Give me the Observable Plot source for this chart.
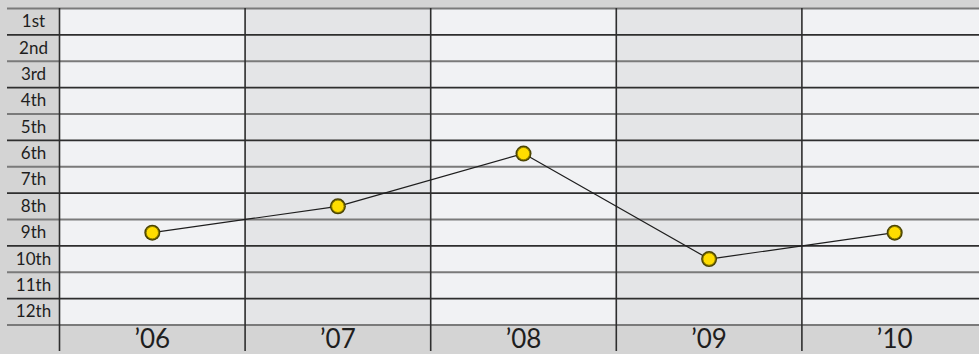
<!DOCTYPE html>
<html>
<head>
<meta charset="utf-8">
<script src="https://cdn.jsdelivr.net/npm/d3@7"></script>
<script src="https://cdn.jsdelivr.net/npm/@observablehq/plot@0.6"></script>
<style>
  html, body { margin: 0; padding: 0; background: #d4d4d4; }
  #chart svg { display: block; background: #d4d4d4; }
</style>
</head>
<body>
<div id="chart"></div>
<script>
// Data
const years = ["’06", "’07", "’08", "’09", "’10"];
const ranks = [9, 8, 6, 10, 9];
const rankLabels = ["1st","2nd","3rd","4th","5th","6th","7th","8th","9th","10th","11th","12th"];

const nRows = rankLabels.length;
const columns = years.map((y, i) => ({year: y, i}));
const points = years.map((y, i) => ({year: y, i, rank: ranks[i]}));
const rowLabels = rankLabels.map((l, i) => ({label: l, i}));
const boundaries = d3.range(nRows + 1);
const colBoundaries = d3.range(years.length + 1);

const plot = Plot.plot({
  width: 979,
  height: 354,
  marginLeft: 7,
  marginRight: 0,
  marginTop: 8,
  marginBottom: 0,
  style: {background: "#d4d4d4", fontFamily: "Lato, 'Open Sans', sans-serif"},
  x: {domain: [0, years.length], range: [59, 59 + 185.6 * years.length], axis: null},
  y: {domain: [0, nRows], range: [8, 324.5], axis: null},
  marks: [
    // alternating column backgrounds
    Plot.rect(columns, {
      x1: d => d.i, x2: d => d.i + 1, y1: 0, y2: nRows,
      fill: d => d.i % 2 === 0 ? "#f1f2f4" : "#e4e5e7"
    }),
    // row boundaries
    Plot.ruleY(boundaries, {
      y: d => d,
      stroke: d => d % 2 === 0 ? "#7a7a7a" : "#2e2e2e",
      strokeWidth: d => d % 2 === 0 ? 2 : 1.6
    }),
    // column boundaries
    Plot.ruleX(colBoundaries.slice(0, years.length), {
      x: d => d, stroke: "#2e2e2e", strokeWidth: 1.6, insetBottom: 3
    }),
    // rank labels
    Plot.text(rowLabels, {
      y: d => d.i + 0.5, text: "label", frameAnchor: "left", dx: 26,
      textAnchor: "middle", fontSize: 17, fill: "#1e1e1e"
    }),
    // year labels
    Plot.text(columns, {
      x: d => d.i + 0.5, text: "year", frameAnchor: "bottom", dy: -15,
      fontSize: 26, fill: "#1e1e1e", lineAnchor: "middle"
    }),
    // line
    Plot.line(points, {x: d => d.i + 0.5, y: d => d.rank - 0.5, stroke: "#1e1e1e", strokeWidth: 1.2}),
    // dots
    Plot.dot(points, {x: d => d.i + 0.5, y: d => d.rank - 0.5, r: 8, fill: "#4a4300", stroke: "none"}),
    Plot.dot(points, {x: d => d.i + 0.5, y: d => d.rank - 0.5, r: 6.2, fill: "#ffdd00", stroke: "#8c7d00", strokeWidth: 1})
  ]
});
document.getElementById("chart").appendChild(plot);
</script>
</body>
</html>
